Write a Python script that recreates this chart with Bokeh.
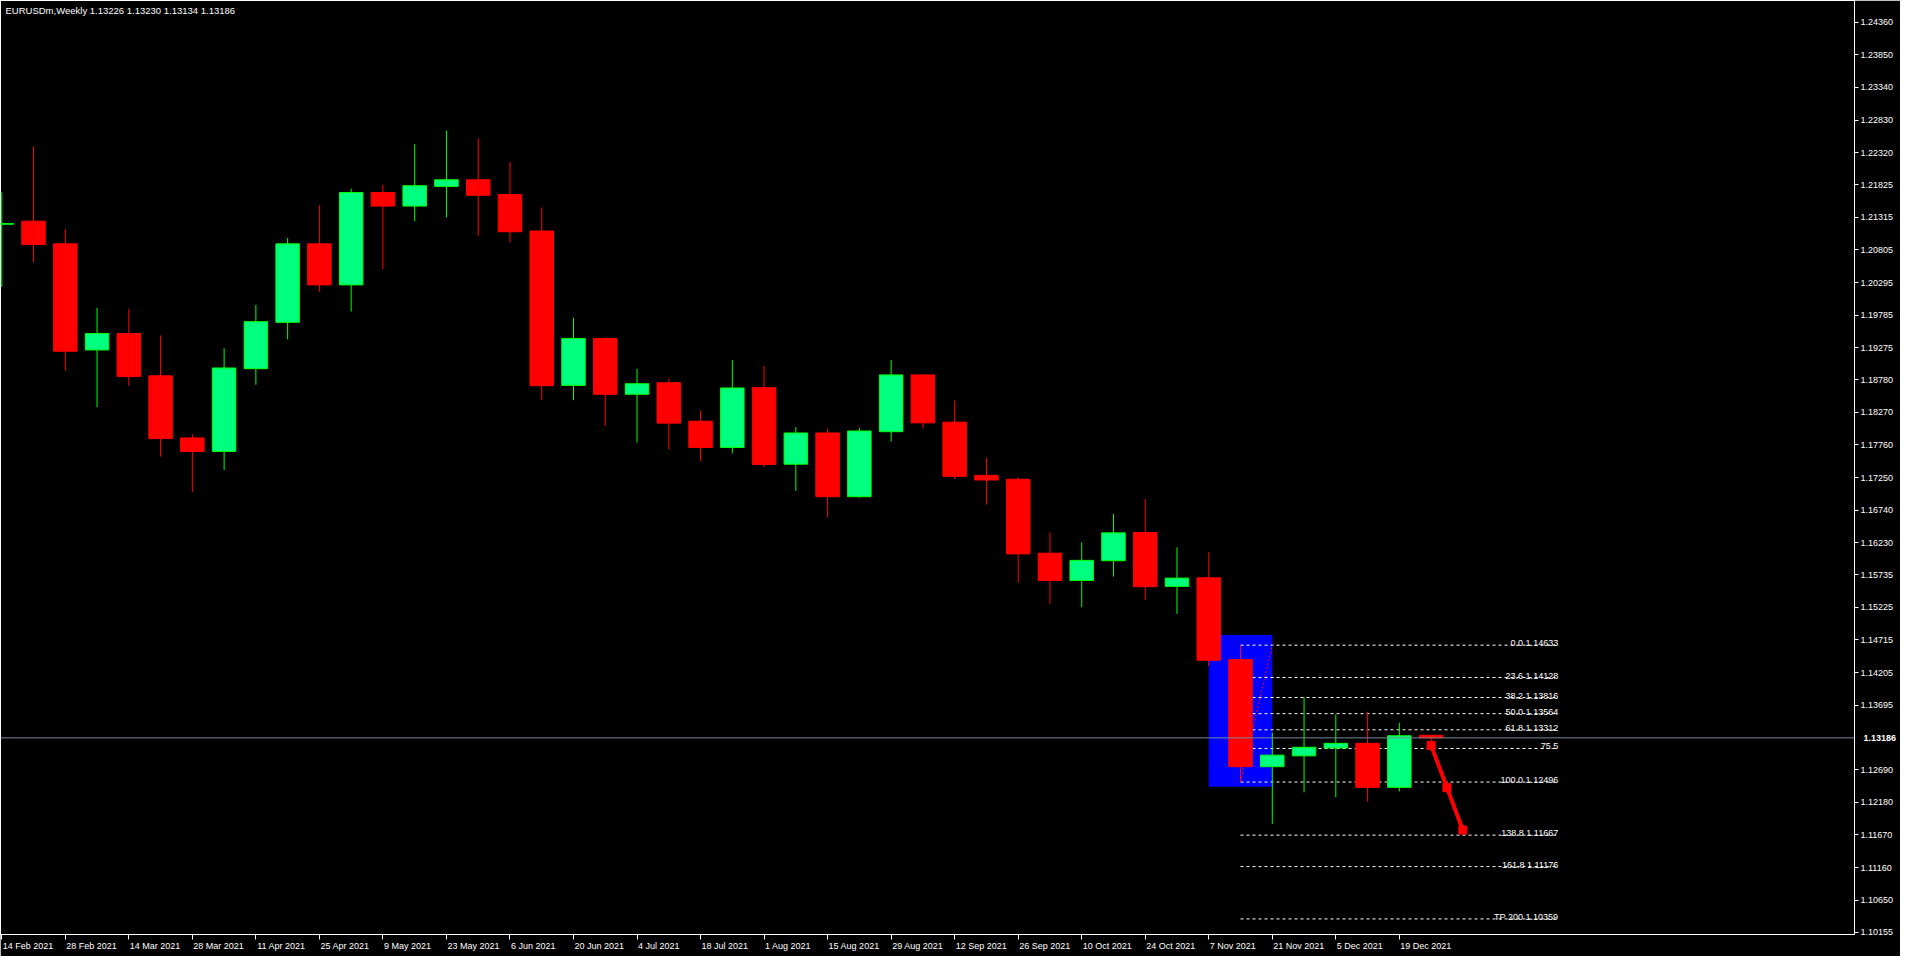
from bokeh.plotting import figure
from bokeh.models import (Range1d, FixedTicker, PrintfTickFormatter, Label,
                          ColumnDataSource, LinearAxis, Span)
from bokeh.embed import file_html
from bokeh.resources import INLINE
from bokeh.core.properties import value

FONT = "Liberation Sans"
FS = 9  # px

chart_title = "EURUSDm,Weekly  1.13226 1.13230 1.13134 1.13186"

# Weekly EURUSD candles, week of 14 Feb 2021 .. 26 Dec 2021
opens = [1.21205, 1.21253, 1.20899, 1.19242, 1.19499, 1.18838, 1.17869, 1.17658, 1.18950, 1.19673,
         1.20899, 1.20258, 1.21699, 1.21488, 1.21796, 1.21899, 1.21668, 1.21099, 1.18689, 1.19422,
         1.18550, 1.18730, 1.18130, 1.17720, 1.18653, 1.17458, 1.17946, 1.16951, 1.17966, 1.18853,
         1.18115, 1.17284, 1.17223, 1.16069, 1.15643, 1.15951, 1.16392, 1.15551, 1.15685, 1.14408,
         1.12736, 1.12905, 1.13028, 1.13100, 1.12413, 1.13226]
highs = [1.21704, 1.22422, 1.21130, 1.19899, 1.19884, 1.19469, 1.17930, 1.19269, 1.19945, 1.20991,
         1.21499, 1.21760, 1.21822, 1.22453, 1.22668, 1.22545, 1.22176, 1.21468, 1.19745, 1.19438,
         1.18946, 1.18792, 1.18300, 1.19084, 1.18992, 1.18038, 1.18007, 1.18023, 1.19084, 1.18869,
         1.18453, 1.17561, 1.17254, 1.16392, 1.16238, 1.16684, 1.16915, 1.16161, 1.16084, 1.14633,
         1.13270, 1.13819, 1.13551, 1.13593, 1.13423, 1.13230]
lows = [1.20227, 1.20611, 1.18919, 1.18350, 1.18684, 1.17577, 1.17027, 1.17366, 1.18699, 1.19407,
        1.20150, 1.19842, 1.20504, 1.21253, 1.21314, 1.21027, 1.20919, 1.18458, 1.18458, 1.18058,
        1.17797, 1.17689, 1.17504, 1.17627, 1.17412, 1.17043, 1.16628, 1.16935, 1.17812, 1.18012,
        1.17227, 1.16827, 1.15612, 1.15274, 1.15228, 1.15705, 1.15335, 1.15120, 1.14305, 1.12496,
        1.11844, 1.12336, 1.12259, 1.12193, 1.12351, 1.13134]
closes = [1.21215, 1.20888, 1.19222, 1.19499, 1.18827, 1.17858, 1.17658, 1.18961, 1.19684, 1.20899,
          1.20258, 1.21699, 1.21488, 1.21807, 1.21899, 1.21657, 1.21088, 1.18684, 1.19422, 1.18550,
          1.18715, 1.18100, 1.17720, 1.18649, 1.17454, 1.17946, 1.16951, 1.17977, 1.18853, 1.18104,
          1.17269, 1.17212, 1.16058, 1.15643, 1.15957, 1.16387, 1.15546, 1.15680, 1.14397, 1.12736,
          1.12916, 1.13039, 1.13100, 1.12413, 1.13219, 1.13186]

date_tick_idx = [0, 2, 4, 6, 8, 10, 12, 14, 16, 18, 20, 22, 24, 26, 28, 30, 32, 34, 36, 38, 40, 42, 44]
date_labels = ["14 Feb 2021", "28 Feb 2021", "14 Mar 2021", "28 Mar 2021", "11 Apr 2021",
               "25 Apr 2021", "9 May 2021", "23 May 2021", "6 Jun 2021", "20 Jun 2021",
               "4 Jul 2021", "18 Jul 2021", "1 Aug 2021", "15 Aug 2021", "29 Aug 2021",
               "12 Sep 2021", "26 Sep 2021", "10 Oct 2021", "24 Oct 2021", "7 Nov 2021",
               "21 Nov 2021", "5 Dec 2021", "19 Dec 2021"]

price_ticks = [1.24360, 1.23850, 1.23340, 1.22830, 1.22320, 1.21825, 1.21315, 1.20805, 1.20295,
               1.19785, 1.19275, 1.18780, 1.18270, 1.17760, 1.17250, 1.16740, 1.16230, 1.15735,
               1.15225, 1.14715, 1.14205, 1.13695, 1.12690, 1.12180, 1.11670, 1.11160, 1.10650,
               1.10155]
current_price = 1.13186

# blue rectangle object
box_x = [38, 40]
box_y = [1.12424, 1.14792]

# fibonacci object
fib_x = [39, 49]
fib_prices = [1.14633, 1.14128, 1.13816, 1.13564, 1.13312, 1.13020, 1.12496, 1.11667, 1.11176, 1.10359]
fib_texts = ["0.0 1.14633", "23.6 1.14128", "38.2 1.13816", "50.0 1.13564", "61.8 1.13312",
             "75.5", "100.0 1.12496", "138.8 1.11667", "161.8 1.11176", "TP 200 1.10359"]
fib_anchor_x = [39, 40]
fib_anchor_y = [1.12496, 1.14633]

# red trend line
trend_x = [45, 46]
trend_y = [1.13070, 1.11747]

x_start, x_end = -0.04, 58.33
y_start, y_end = 1.10116, 1.24698

W, H = 1900, 956
RIGHT_BORDER, BOTTOM_BORDER = 46, 22
px_per_unit = (W - RIGHT_BORDER) / (x_end - x_start)

# approximate advance widths (em) of Liberation Sans, used to left-align the date labels at their ticks
CHAR_W = {" ": 0.278, "F": 0.611, "e": 0.556, "b": 0.556, "M": 0.833, "a": 0.556, "r": 0.333,
          "p": 0.556, "A": 0.667, "J": 0.5, "u": 0.556, "n": 0.556, "l": 0.222, "g": 0.556,
          "S": 0.667, "O": 0.778, "c": 0.5, "t": 0.278, "N": 0.722, "o": 0.556, "v": 0.5,
          "D": 0.722, "y": 0.5, ".": 0.278}


def text_w(s):
    return sum(CHAR_W.get(ch, 0.556) for ch in s) * FS


label_pos = [round(t + (text_w(s) / 2 + 1) / px_per_unit, 3) for t, s in zip(date_tick_idx, date_labels)]

p = figure(width=W, height=H, output_backend="svg", toolbar_location=None,
           x_range=Range1d(x_start, x_end), y_range=Range1d(y_start, y_end),
           background_fill_color="black", border_fill_color="black",
           min_border_left=0, min_border_top=0, min_border_right=RIGHT_BORDER,
           min_border_bottom=BOTTOM_BORDER, x_axis_location=None, y_axis_location=None)
p.xgrid.visible = False
p.ygrid.visible = False
p.outline_line_color = "white"
p.outline_line_width = 1

TICK_OUT, STANDOFF = 4, 2
yax = LinearAxis(ticker=FixedTicker(ticks=price_ticks), formatter=PrintfTickFormatter(format="%.5f"),
                 axis_line_color="white", major_tick_line_color="white", major_tick_out=TICK_OUT,
                 major_tick_in=0, minor_tick_line_color=None, major_label_text_color="white",
                 major_label_text_font=FONT, major_label_text_font_size=f"{FS}px",
                 major_label_standoff=STANDOFF)
p.add_layout(yax, "right")

# current price on the price scale: a second right axis pulled back over the first one
main_axis_w = TICK_OUT + STANDOFF + text_w("1.24360")
pull_back = round(main_axis_w - (TICK_OUT + STANDOFF))
cur_ax = LinearAxis(ticker=FixedTicker(ticks=[current_price]),
                    formatter=PrintfTickFormatter(format="%.5f"),
                    axis_line_color=None, major_tick_line_color=None, minor_tick_line_color=None,
                    major_tick_out=0, major_tick_in=0, major_label_standoff=-pull_back,
                    major_label_text_color="white", major_label_text_font_style="bold",
                    major_label_text_font=FONT, major_label_text_font_size=f"{FS}px")
p.add_layout(cur_ax, "right")

xax = LinearAxis(ticker=FixedTicker(ticks=label_pos, minor_ticks=date_tick_idx),
                 major_label_overrides={pos: s for pos, s in zip(label_pos, date_labels)},
                 axis_line_color="white", major_tick_line_color=None, major_tick_out=5,
                 major_tick_in=0, minor_tick_line_color="white", minor_tick_out=5, minor_tick_in=0,
                 major_label_text_color="white", major_label_text_font=FONT,
                 major_label_text_font_size=f"{FS}px", major_label_standoff=1)
p.add_layout(xax, "below")

# objects behind candles
p.quad(left=[box_x[0]], right=[box_x[1]], bottom=[box_y[0]], top=[box_y[1]],
       fill_color="#0000FF", line_color=None)

fib_src = ColumnDataSource(dict(x0=[fib_x[0]] * len(fib_prices), x1=[fib_x[1]] * len(fib_prices),
                                y=fib_prices, text=fib_texts))
p.segment(x0="x0", y0="y", x1="x1", y1="y", source=fib_src, line_color="white",
          line_width=1, line_dash="3 3")
p.text(x="x1", y="y", text="text", source=fib_src, text_color="white",
       text_font=value(FONT), text_font_size=f"{FS}px", text_align="right",
       text_baseline="alphabetic", y_offset=-2)
p.line(fib_anchor_x, fib_anchor_y, line_color="red", line_width=1, line_dash="2 2")

# candles
idx = list(range(len(opens)))
bull = dict(x=[], o=[], h=[], l=[], c=[])
bear = dict(x=[], o=[], h=[], l=[], c=[])
for i in idx:
    d = bull if closes[i] > opens[i] else bear
    d["x"].append(i); d["o"].append(opens[i]); d["h"].append(highs[i])
    d["l"].append(lows[i]); d["c"].append(closes[i])

for d, fill, edge in ((bull, "#00FF7F", "#00FF00"), (bear, "#FF0000", "#FF0000")):
    top = [max(a, b) for a, b in zip(d["o"], d["c"])]
    bot = [min(a, b) for a, b in zip(d["o"], d["c"])]
    src = ColumnDataSource(dict(x=d["x"], h=d["h"], l=d["l"], top=top, bot=bot))
    p.segment(x0="x", y0="l", x1="x", y1="h", source=src, line_color=edge, line_width=1)
    p.vbar(x="x", width=0.74, top="top", bottom="bot", source=src,
           fill_color=fill, line_color=edge, line_width=1)

# red trend line
p.line(trend_x, trend_y, line_color="#FF0000", line_width=4)
tmx = [trend_x[0], (trend_x[0] + trend_x[1]) / 2, trend_x[1]]
tmy = [trend_y[0], (trend_y[0] + trend_y[1]) / 2, trend_y[1]]
p.scatter(tmx, tmy, marker="square", size=8, fill_color="#FF0000", line_color="#FF0000")

# bid line
p.add_layout(Span(location=current_price, dimension="width", line_color="#778899", line_width=1))

p.add_layout(Label(x=x_start, y=y_end, text=chart_title, x_offset=5, y_offset=-4,
                   text_align="left", text_baseline="top", text_color="white",
                   text_font=FONT, text_font_size="9.5px"))

open("out.html", "w").write(file_html(p, INLINE))
